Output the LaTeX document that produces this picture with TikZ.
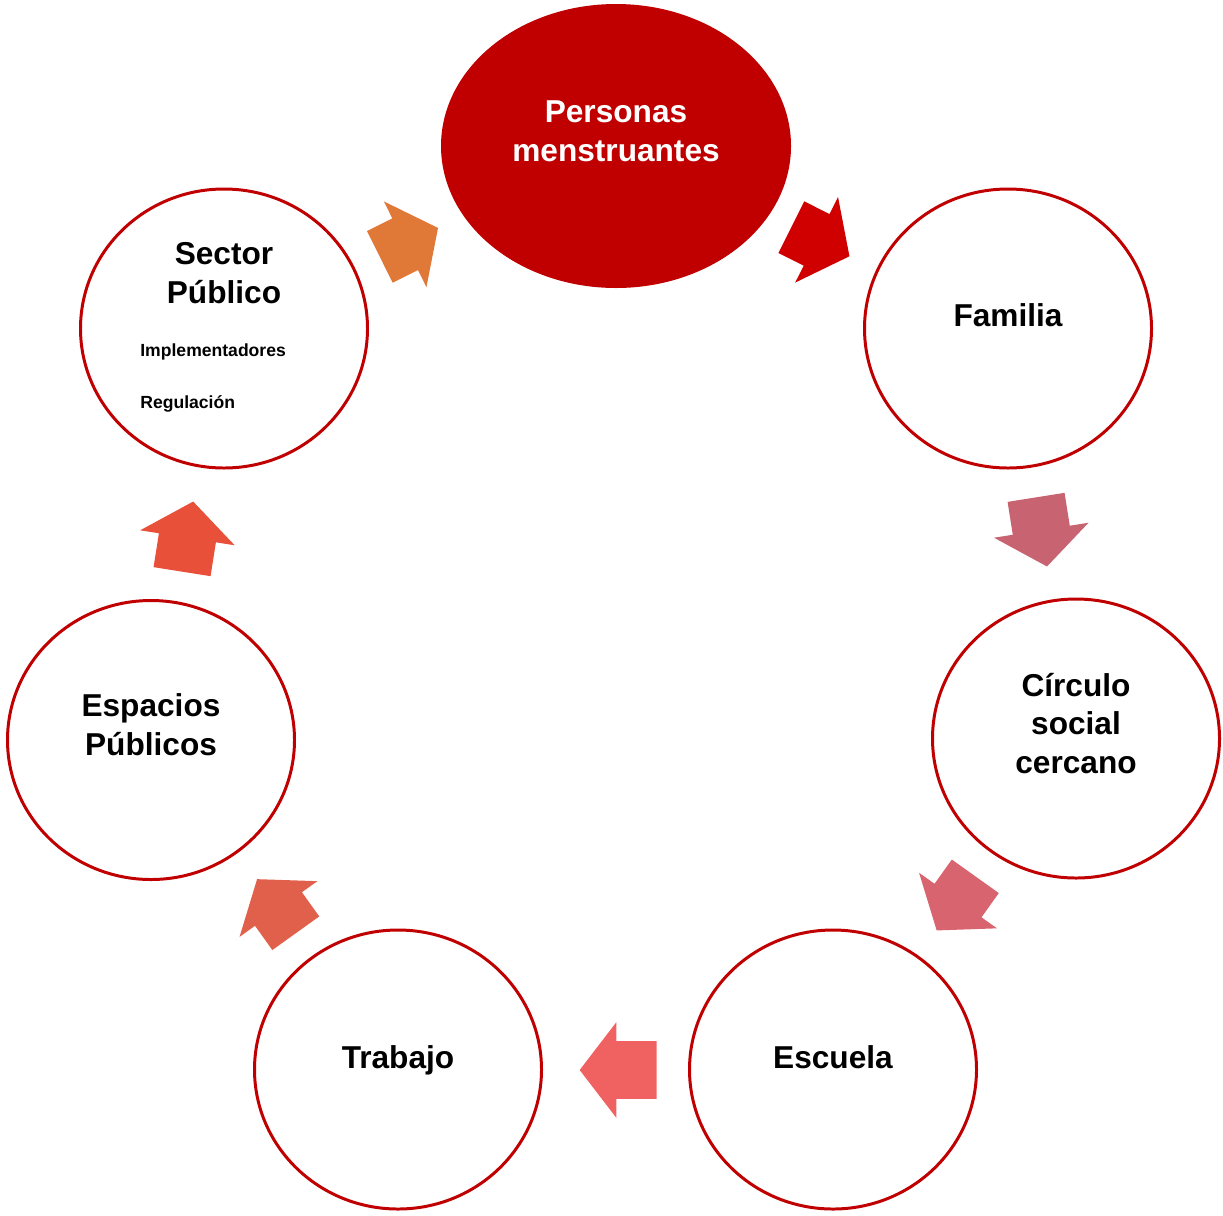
\documentclass[tikz,border=0pt]{standalone}
\usepackage{fontspec}
\setmainfont{Liberation Sans}
\usetikzlibrary{shapes.geometric,shapes.arrows}
\definecolor{dred}{HTML}{C00000}
\tikzset{
  ring/.style={ellipse,draw=dred,line width=1.7pt,minimum width=5.74cm,minimum height=5.58cm,inner sep=0pt},
  lbl/.style={align=center,font=\fontsize{18}{22}\selectfont\bfseries},
  sml/.style={anchor=west,inner sep=0pt,font=\fontsize{10}{12}\selectfont\bfseries},
  blk/.style={single arrow,draw=none,anchor=tail,minimum height=1.36cm,minimum width=1.9cm,single arrow head extend=0.38cm,single arrow tip angle=105,inner xsep=0pt,inner ysep=0.57cm},
}

\begin{document}
\begin{tikzpicture}
\useasboundingbox (0,0) rectangle (24.46,-24.30);
\node[ellipse,fill=dred,minimum width=7cm,minimum height=5.68cm] (pers) at (12.32,-2.92){};
\node[ring] (fam) at (20.16,-6.57){}; \node[ring] (circ) at (21.52,-14.77){}; \node[ring] (esc) at (16.66,-21.39){};
\node[ring] (trab) at (7.96,-21.39){}; \node[ring] (esp) at (3.02,-14.80){}; \node[ring] (sec) at (4.48,-6.57){};
% texts
\node[lbl,text=white] at ([yshift=0.3cm]pers) {Personas\\menstruantes};
\node[lbl] at ([yshift=0.26cm]fam) {Familia};
\node[lbl] at ([yshift=0.3cm]circ) {Círculo\\social\\cercano};
\node[lbl] at ([yshift=0.24cm]esc) {Escuela};
\node[lbl] at ([yshift=0.18cm]trab) {Trabajo};
\node[lbl] at ([yshift=0.3cm]esp) {Espacios\\Públicos};
\node[lbl] at ([yshift=1.11cm]sec) {Sector\\Público};
\node[sml] (impl) at (2.80,-7.04) {Implementadores};
\node[sml] (reg) at (2.80,-8.08) {Regulación};
% arrows, placed by their tails
\node[blk,fill={rgb,255:red,224;green,120;blue,56},rotate=26.4,minimum height=1.3cm] (a1) at (7.59,-5.14){};
\node[blk,fill={rgb,255:red,208;green,0;blue,0},rotate=-26.6,minimum height=1.3cm] (a2) at (15.82,-4.54){};
\node[blk,fill={rgb,255:red,200;green,100;blue,114},rotate=-81,minimum height=1.4cm] (a3) at (20.72,-9.94){};
\node[blk,fill={rgb,255:red,215;green,100;blue,110},rotate=-125.5,minimum height=1.33cm] (a4) at (19.51,-17.52){};
\node[blk,fill={rgb,255:red,240;green,98;blue,98},rotate=180,minimum height=1.54cm] (a5) at (13.14,-21.40){};
\node[blk,fill={rgb,255:red,224;green,96;blue,76},rotate=125.6,minimum height=1.33cm] (a6) at (5.92,-18.67){};
\node[blk,fill={rgb,255:red,232;green,80;blue,58},rotate=81,minimum height=1.42cm] (a7) at (3.64,-11.44){};
\end{tikzpicture}
\end{document}
